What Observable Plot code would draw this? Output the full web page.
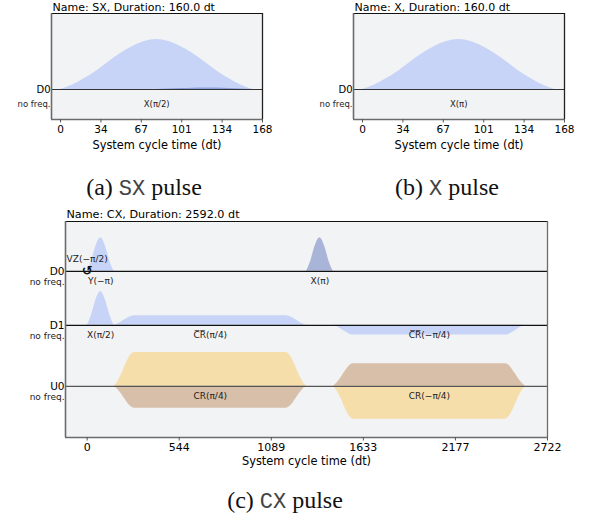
<!DOCTYPE html>
<html><head><meta charset="utf-8">
<script src="https://cdn.jsdelivr.net/npm/d3@7"></script>
<script src="https://cdn.jsdelivr.net/npm/@observablehq/plot@0.6"></script>
<style>
body{margin:0;background:#fff;}
#wrap{position:relative;width:590px;height:521px;overflow:hidden;font-family:"DejaVu Sans";}
.panel{position:absolute;}
.cap{position:absolute;font-family:"Liberation Serif";font-size:24px;color:#111;white-space:nowrap;transform:translateX(-50%);line-height:1;}
.cap .m{font-family:"Liberation Mono","DejaVu Sans Mono",monospace;font-size:22px;color:#444;}
</style></head><body>
<div id="wrap">
  <div id="pa" class="panel" style="left:0;top:0"></div>
  <div id="pb" class="panel" style="left:295px;top:0"></div>
  <div id="pc" class="panel" style="left:0;top:200px"></div>
  <div class="cap" style="left:144px;top:175px">(a) <span class="m">SX</span> pulse</div>
  <div class="cap" style="left:447px;top:175px">(b) <span class="m">X</span> pulse</div>
  <div class="cap" style="left:285px;top:488px">(c) <span class="m">CX</span> pulse</div>
</div>
<script>
// ---------- data ----------
const gaussT = [0,10,20,30,40,50,60,70,80,90,100,110,120,130,140,150,160];
const gaussV = [0,0.09,0.22,0.37,0.55,0.72,0.86,0.96,1,0.96,0.86,0.72,0.55,0.37,0.22,0.09,0];
const sxImagV = [0,-0.004,-0.006,-0.008,-0.01,-0.01,-0.008,-0.004,0,0.012,0.02,0.026,0.03,0.028,0.022,0.012,0];

const sqTimes1 = [160,180,200,220,240,260,280,1176,1196,1216,1236,1256,1276,1296];
const sqTimes2 = [1456,1476,1496,1516,1536,1556,1576,2472,2492,2512,2532,2552,2572,2592];
const sqEnv    = [0,0.13,0.32,0.55,0.77,0.94,1,1,0.94,0.77,0.55,0.32,0.13,0];

const sxTicks = [0,33.6,67.2,100.8,134.4,168];
const sxTickLabels = ["0","34","67","101","134","168"];
const cxTicks = [0,544.4,1088.8,1633.2,2177.6,2722];
const cxTickLabels = ["0","544","1089","1633","2177","2722"];

const cxChannels = ["D0","D1","U0"];
const cxOffsets = [0,-1.6,-3.41];

// pulse amplitudes (normalized per channel)
const cxPulses = [
  {name:"Y(−π)",  ch:"D0", times:"gauss", start:0,    re:1,    im:0},
  {name:"X(π)",   ch:"D0", times:"gauss", start:1296, re:0,    im:1},
  {name:"X(π/2)", ch:"D1", times:"gauss", start:0,    re:1,    im:0},
  {name:"C\u0305R\u0305(π/4)",  ch:"D1", times:"sq1", start:0, re:0.28, im:0},
  {name:"C\u0305R\u0305(−π/4)", ch:"D1", times:"sq2", start:0, re:-0.29, im:0},
  {name:"CR(π/4)",  ch:"U0", times:"sq1", start:0, re:1.0,  im:-0.65},
  {name:"CR(−π/4)", ch:"U0", times:"sq2", start:0, re:-0.98, im:0.67}
];
const labelTimes = [80,1376,80,728,2024,728,2024];

const colors = {D:["#648fff","#002999"], U:["#ffb000","#994a00"]};

// ---------- helpers ----------
function rows(series, times, vals, offset, amp, color) {
  return times.map((t,i)=>({series, t, base:offset, v:offset+amp*vals[i], color}));
}

function makePanel(o) {
  const [x0,x1] = o.xDomain, [y0,y1] = o.yDomain;
  return Plot.plot({
    width:o.width, height:o.height,
    marginLeft:o.ml, marginRight:o.mr, marginTop:o.mt, marginBottom:o.mb,
    x:{domain:o.xDomain, axis:null},
    y:{domain:o.yDomain, axis:null},
    color:{type:"identity"},
    style:{fontFamily:"DejaVu Sans", background:"transparent", overflow:"visible"},
    marks:[
      Plot.frame({fill:"#f2f3f4", stroke:"none"}),
      Plot.areaY(o.areas, {x:"t", y1:"base", y2:"v", z:"series", fill:"color", fillOpacity:0.3, curve:"monotone-x"}),
      Plot.ruleY(o.offsets, {stroke:(d,i)=>o.lineColors[i], strokeWidth:1.2}),
      Plot.ruleY([y1], {stroke:"#111", strokeWidth:1}),
      Plot.ruleX([x1], {stroke:o.rightStroke, strokeWidth:1.3}),
      Plot.ruleX([x0], {stroke:"#6b6b6b", strokeWidth:1.6}),
      Plot.ruleY([y0], {stroke:"#6b6b6b", strokeWidth:1.6}),
      Plot.axisX(o.ticks, {tickFormat:d=>o.tickLabels[o.ticks.indexOf(d)], tickSize:3.5, tickPadding:2.5,
        fontSize:o.tickFont, stroke:"#555", fill:"#000", label:null}),
      Plot.text([o.xlabel], {frameAnchor:"bottom", dy:o.xlabelDy, fontSize:o.xlabelFont, lineAnchor:"middle", fill:"#000"}),
      Plot.text([o.title], {frameAnchor:"top-left", dx:1, dy:-o.titleDy, textAnchor:"start", lineAnchor:"middle", fontSize:o.titleFont, fill:"#000"}),
      Plot.text(o.channels, {y:(d,i)=>o.offsets[i], frameAnchor:"left", dx:-1, textAnchor:"end", lineAnchor:"middle", fontSize:o.chanFont, fill:"#000"}),
      Plot.text(o.channels, {y:(d,i)=>o.offsets[i], text:()=>"no freq.", frameAnchor:"left", dx:-1, dy:o.noFreqDy, textAnchor:"end", lineAnchor:"middle", fontSize:o.smallFont, fill:"#222"}),
      Plot.text(o.labels, {x:"t", y:"y", text:"text", dy:o.labelDy, lineAnchor:"middle", fontSize:o.smallFont, fill:"#222"}),
      ...(o.extra || [])
    ]
  });
}

// ---------- panel (a) SX ----------
const sxAreas = [
  ...rows("re", gaussT, gaussV, 0, 1, colors.D[0]),
  ...rows("im", gaussT, sxImagV, 0, 1, colors.D[1])
];
document.getElementById("pa").appendChild(makePanel({
  width:295, height:152, ml:51, mr:33, mt:13, mb:33,
  xDomain:[-7.5,168], yDomain:[-0.6,1.52],
  ticks:sxTicks, tickLabels:sxTickLabels, tickFont:10.5,
  xlabel:"System cycle time (dt)", xlabelDy:26, xlabelFont:11.4,
  title:"Name: SX, Duration: 160.0 dt", titleDy:6, titleFont:11,
  channels:["D0"], offsets:[0], lineColors:["#333"], chanFont:10, smallFont:8.5, noFreqDy:15,
  areas:sxAreas, labels:[{t:80, y:0, text:"X(π/2)"}], labelDy:15,
  rightStroke:"#222"
}));

// ---------- panel (b) X ----------
document.getElementById("pb").appendChild(makePanel({
  width:295, height:152, ml:58, mr:26, mt:13, mb:33,
  xDomain:[-7.5,168], yDomain:[-0.6,1.52],
  ticks:sxTicks, tickLabels:sxTickLabels, tickFont:10.5,
  xlabel:"System cycle time (dt)", xlabelDy:26, xlabelFont:11.4,
  title:"Name: X, Duration: 160.0 dt", titleDy:6, titleFont:11,
  channels:["D0"], offsets:[0], lineColors:["#333"], chanFont:10, smallFont:8.5, noFreqDy:15,
  areas:rows("re", gaussT, gaussV, 0, 1, colors.D[0]), labels:[{t:80, y:0, text:"X(π)"}], labelDy:15,
  rightStroke:"#222"
}));

// ---------- panel (c) CX ----------
const cxAreas = [];
const cxLabels = [];
cxPulses.forEach((p,k)=>{
  const off = cxOffsets[cxChannels.indexOf(p.ch)];
  const col = colors[p.ch[0]];
  let times, vals;
  if (p.times === "gauss") { times = gaussT.map(t=>t+p.start); vals = gaussV; }
  else { times = p.times === "sq1" ? sqTimes1 : sqTimes2; vals = sqEnv; }
  if (p.re) cxAreas.push(...rows("re"+k, times, vals, off, p.re, col[0]));
  if (p.im) cxAreas.push(...rows("im"+k, times, vals, off, p.im, col[1]));
  cxLabels.push({t:labelTimes[k], y:off, text:p.name});
});
document.getElementById("pc").appendChild(makePanel({
  width:590, height:275, ml:65, mr:43, mt:21, mb:38,
  xDomain:[-128,2722], yDomain:[-4.93,1.48],
  ticks:cxTicks, tickLabels:cxTickLabels, tickFont:11,
  xlabel:"System cycle time (dt)", xlabelDy:24, xlabelFont:11.4,
  title:"Name: CX, Duration: 2592.0 dt", titleDy:7, titleFont:11.2,
  channels:cxChannels, offsets:cxOffsets, lineColors:["#111","#111","#555"], chanFont:10.5, smallFont:9, noFreqDy:10.5,
  areas:cxAreas, labels:cxLabels, labelDy:10,
  rightStroke:"#6b6b6b",
  extra:[
    Plot.text(["VZ(−π/2)"], {x:()=>0, y:()=>0, dy:-12.5, lineAnchor:"middle", fontSize:9, fill:"#222"}),
    Plot.text(["↺"], {x:()=>0, y:()=>0, dy:-1, lineAnchor:"middle", fontSize:13, fontWeight:"bold", fill:"#111"})
  ]
}));
</script>
</body></html>
